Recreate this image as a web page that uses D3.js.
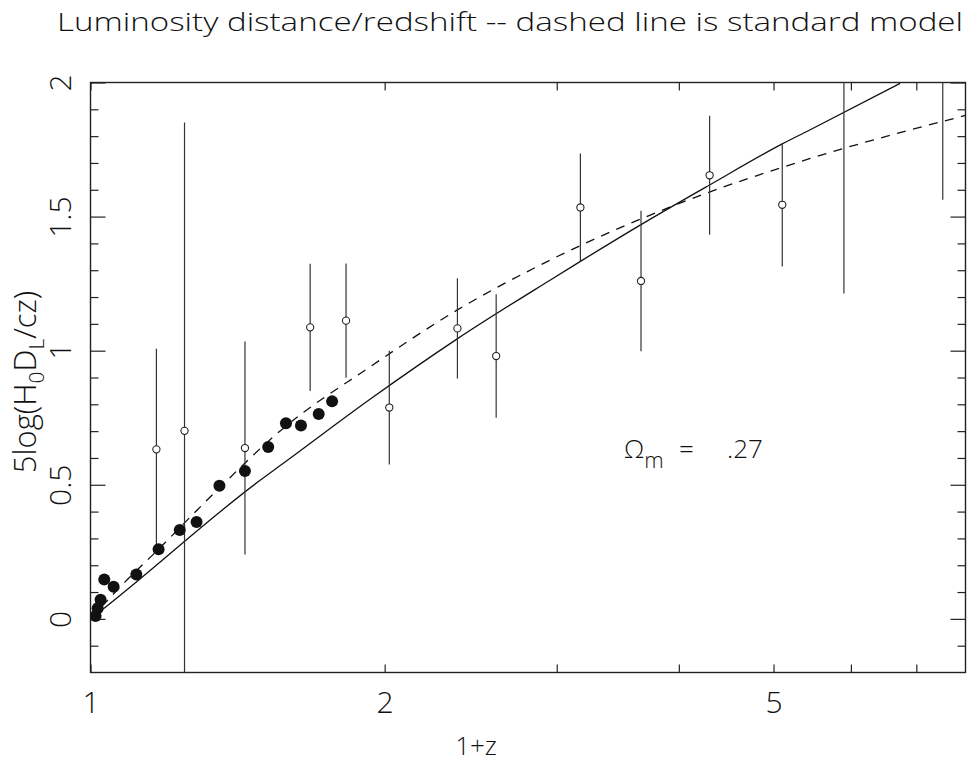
<!DOCTYPE html>
<html>
<head>
<meta charset="utf-8">
<script src="https://cdn.jsdelivr.net/npm/d3@7"></script>
<style>
  body { margin: 0; background: #fff; }
  svg { display: block; }
  text { font-family: 'Open Sans', Roboto, 'Liberation Sans', sans-serif; font-weight: 300; fill: #111; }
</style>
</head>
<body>
<div id="chart"></div>
<script>
// filled points (low redshift sample)
const filledX = [1.012, 1.017, 1.024, 1.033, 1.056, 1.114, 1.174, 1.234, 1.284, 1.355, 1.439, 1.52, 1.585, 1.642, 1.712, 1.767];
const filledY = [0.011, 0.04, 0.071, 0.147, 0.12, 0.165, 0.26, 0.331, 0.361, 0.496, 0.551, 0.641, 0.729, 0.721, 0.764, 0.811];

// open points with error bars
const openX = [1.168, 1.248, 1.439, 1.678, 1.826, 2.022, 2.374, 2.601, 3.172, 3.659, 4.301, 5.104, 5.902, 7.45];
const openY = [0.632, 0.701, 0.637, 1.087, 1.112, 0.788, 1.083, 0.980, 1.534, 1.260, 1.654, 1.544, 2.05, 2.10];
const openErr = [0.375, 1.15, 0.397, 0.237, 0.213, 0.212, 0.187, 0.23, 0.201, 0.262, 0.222, 0.23, 0.837, 0.537];

// model curves
const solidX = [1.0, 1.0255, 1.489, 1.579, 1.929, 2.373, 2.947, 3.172, 3.659, 4.301, 5.104, 5.433, 6.738];
const solidY = [0.0, 0.031, 0.515, 0.583, 0.817, 1.044, 1.261, 1.333, 1.470, 1.618, 1.771, 1.821, 1.997];
const dashedX = [1.0, 1.071, 1.174, 1.329, 1.579, 1.929, 2.374, 2.947, 4.03, 5.433, 7.86];
const dashedY = [0.0, 0.117, 0.26, 0.458, 0.714, 0.938, 1.152, 1.336, 1.553, 1.715, 1.877];

// ticks
const xTicks = [1, 2, 3, 4, 5, 6, 7];
const xLabels = [1, 2, 5];
const yMajor = [0, 0.5, 1, 1.5, 2];
const yMinor = [-0.1, 0.1, 0.2, 0.3, 0.4, 0.6, 0.7, 0.8, 0.9, 1.1, 1.2, 1.3, 1.4, 1.6, 1.7, 1.8, 1.9];

const W = 967, H = 765;
const L = 90.5, R = 965.5, T = 82.5, B = 672.5;

const svg = d3.select('#chart').append('svg')
    .attr('width', W).attr('height', H);

const x = d3.scaleLog().domain([1, 7.86]).range([L, R]);
const y = d3.scaleLinear().domain([-0.2, 2]).range([B, T]);

svg.append('clipPath').attr('id', 'plot')
  .append('rect').attr('x', L).attr('y', T).attr('width', R - L).attr('height', B - T);

// title
svg.append('text')
    .attr('x', 57).attr('y', 31)
    .attr('font-size', 25)
    .attr('textLength', 906).attr('lengthAdjust', 'spacingAndGlyphs')
    .text('Luminosity distance/redshift -- dashed line is standard model');

// axes
function styleAxis(g) {
  g.select('.domain').remove();
  g.selectAll('line').attr('stroke', '#222').attr('stroke-width', 1.2);
}

svg.append('g').attr('transform', `translate(0,${B})`)
    .call(d3.axisBottom(x).tickValues(xTicks).tickSize(-8).tickPadding(19)
      .tickFormat(d => xLabels.includes(d) ? d : ''))
    .call(styleAxis)
    .selectAll('text').attr('font-size', 30).attr('fill', '#111');

svg.append('g').attr('transform', `translate(0,${T})`)
    .call(d3.axisTop(x).tickValues(xTicks).tickSize(-8).tickFormat(''))
    .call(styleAxis);

const leftMajor = svg.append('g').attr('transform', `translate(${L},0)`)
    .call(d3.axisLeft(y).tickValues(yMajor).tickSize(-15).tickFormat(d3.format('')))
    .call(styleAxis);
leftMajor.selectAll('text')
    .attr('font-size', 30).attr('fill', '#111')
    .attr('text-anchor', 'middle')
    .attr('transform', 'rotate(-90)')
    .attr('x', 0).attr('y', -20).attr('dy', 0);

svg.append('g').attr('transform', `translate(${L},0)`)
    .call(d3.axisLeft(y).tickValues(yMinor).tickSize(-8).tickFormat(''))
    .call(styleAxis);
svg.append('g').attr('transform', `translate(${R},0)`)
    .call(d3.axisRight(y).tickValues(yMajor).tickSize(-15).tickFormat(''))
    .call(styleAxis);
svg.append('g').attr('transform', `translate(${R},0)`)
    .call(d3.axisRight(y).tickValues(yMinor).tickSize(-8).tickFormat(''))
    .call(styleAxis);

// frame
svg.append('rect')
    .attr('x', L).attr('y', T).attr('width', R - L).attr('height', B - T)
    .attr('fill', 'none').attr('stroke', '#222').attr('stroke-width', 1.4);

// axis titles
svg.append('text')
    .attr('x', 476).attr('y', 755)
    .attr('text-anchor', 'middle').attr('font-size', 26)
    .text('1+z');

const ylab = svg.append('text')
    .attr('transform', 'translate(36,382) rotate(-90)')
    .attr('text-anchor', 'middle').attr('font-size', 31);
ylab.append('tspan').text('5log(H');
ylab.append('tspan').attr('font-size', 21).attr('dy', 8).text('0');
ylab.append('tspan').attr('dy', -8).text('D');
ylab.append('tspan').attr('font-size', 21).attr('dy', 8).text('L');
ylab.append('tspan').attr('dy', -8).text('/cz)');

// plot contents
const plot = svg.append('g').attr('clip-path', 'url(#plot)');

const line = d3.line().x(d => x(d[0])).y(d => y(d[1])).curve(d3.curveMonotoneX);

plot.append('path')
    .datum(solidX.map((v, i) => [v, solidY[i]]))
    .attr('d', line)
    .attr('fill', 'none').attr('stroke', '#111').attr('stroke-width', 1.3);

plot.append('path')
    .datum(dashedX.map((v, i) => [v, dashedY[i]]))
    .attr('d', line)
    .attr('fill', 'none').attr('stroke', '#111').attr('stroke-width', 1.3)
    .attr('stroke-dasharray', '9,7.5');

const open = openX.map((v, i) => ({ x: v, y: openY[i], e: openErr[i] }));

plot.selectAll('line.err')
    .data(open)
    .enter()
    .append('line')
    .attr('class', 'err')
    .attr('x1', d => x(d.x)).attr('x2', d => x(d.x))
    .attr('y1', d => y(d.y - d.e)).attr('y2', d => y(d.y + d.e))
    .attr('stroke', '#333').attr('stroke-width', 1.2);

plot.selectAll('circle.open')
    .data(open)
    .enter()
    .append('circle')
    .attr('class', 'open')
    .attr('cx', d => x(d.x)).attr('cy', d => y(d.y))
    .attr('r', 3.6)
    .attr('fill', '#fff').attr('stroke', '#222').attr('stroke-width', 1.1);

plot.selectAll('circle.filled')
    .data(filledX.map((v, i) => ({ x: v, y: filledY[i] })))
    .enter()
    .append('circle')
    .attr('class', 'filled')
    .attr('cx', d => x(d.x)).attr('cy', d => y(d.y))
    .attr('r', 6)
    .attr('fill', '#111');

// Omega_m annotation
const om = svg.append('text').attr('x', 624).attr('y', 458).attr('font-size', 26);
om.append('tspan').text('Ω');
om.append('tspan').attr('font-size', 22).attr('dy', 10).text('m');
svg.append('text').attr('x', 679).attr('y', 458).attr('font-size', 26).text('=');
svg.append('text').attr('x', 727).attr('y', 458).attr('font-size', 26).text('.27');
</script>
</body>
</html>
